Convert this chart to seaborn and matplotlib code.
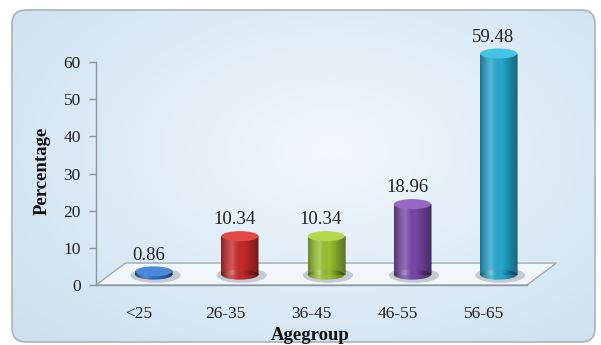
import numpy as np
import pandas as pd
import matplotlib
matplotlib.use("Agg")
import matplotlib.pyplot as plt
import seaborn as sns
from matplotlib.patches import Ellipse, Polygon, FancyBboxPatch
from matplotlib.colors import LinearSegmentedColormap

# ---- data ----
categories = ["<25", "26-35", "36-45", "46-55", "56-65"]
values = [0.86, 10.34, 10.34, 18.96, 59.48]
value_labels = ["0.86", "10.34", "10.34", "18.96", "59.48"]
y_ticks = [0, 10, 20, 30, 40, 50, 60]

# ---- styles ----
bar_colors = ["#2f6cc0", "#c92a2c", "#98c230", "#7a48a8", "#25a8d0"]
top_colors = ["#4a8ad8", "#df4a46", "#b2d84c", "#9468c4", "#46c2e6"]

sns.set_theme(style="white")
plt.rcParams["font.family"] = ["Liberation Serif", "DejaVu Serif"]

fig = plt.figure(figsize=(6.01, 3.45), dpi=100, facecolor="white")
W, H = 601, 345

# background panel with gradient
bg = fig.add_axes([0, 0, 1, 1], zorder=0)
bg.set_xlim(0, W)
bg.set_ylim(H, 0)
bg.axis("off")
yy, xx = np.mgrid[0:H, 0:W]
r = np.sqrt(((xx - 330) / 420.0) ** 2 + ((yy - 150) / 260.0) ** 2)
t = np.clip(r, 0, 1)
c0 = np.array([0.95, 0.972, 0.99])
c1 = np.array([0.80, 0.88, 0.945])
img = c0[None, None, :] * (1 - t[..., None]) + c1[None, None, :] * t[..., None]
panel = FancyBboxPatch((12, 10), 583, 332, boxstyle="round,pad=0,rounding_size=14",
                       facecolor="none", edgecolor="#a9b3bc", linewidth=1.2, zorder=3)
bg.add_patch(panel)
im = bg.imshow(img, extent=(0, W, H, 0), zorder=1)
clip_panel = FancyBboxPatch((12, 10), 583, 332, boxstyle="round,pad=0,rounding_size=14",
                            transform=bg.transData, facecolor="none", edgecolor="none")
bg.add_patch(clip_panel)
im.set_clip_path(clip_panel)

# main axes
ax = fig.add_axes([96 / W, 1 - 285 / H, (527 - 96) / W, (285 - 62) / H], zorder=2)
ax.set_facecolor("none")

df = pd.DataFrame({"Agegroup": categories, "Percentage": values})
sns.barplot(data=df, x="Agegroup", y="Percentage", hue="Agegroup",
            palette=bar_colors, legend=False, width=0.43, ax=ax,
            saturation=1, zorder=3)

ax.set_xlim(-0.5, 4.5)
ax.set_ylim(0, 60)
ax.set_yticks(y_ticks)
ax.set_yticklabels([str(v) for v in y_ticks])

# 3D floor
depth_dx, depth_dy = 0.34, 5.9
floor = Polygon([(-0.5, 0), (4.5, 0), (4.5 + depth_dx, depth_dy), (-0.5 + depth_dx, depth_dy)],
                closed=True, facecolor="#f4f8fc", edgecolor="#9aa3ab", linewidth=1.0,
                alpha=0.9, zorder=1, clip_on=False)
ax.add_patch(floor)

# cylinder shading colormap
shade = LinearSegmentedColormap.from_list(
    "shade",
    [(0.0, (0, 0, 0, 0.3)), (0.3, (1, 1, 1, 0.22)), (0.55, (0, 0, 0, 0.0)),
     (1.0, (0, 0, 0, 0.4))])
grad = np.linspace(0, 1, 64)[None, :]

dx, dy = 0.17, 2.8
ell_h = 2.7
for i, p in enumerate(ax.patches[:]):
    if p is floor:
        continue
    x0 = p.get_x() + dx
    w = p.get_width()
    h = p.get_height()
    p.set_x(x0)
    p.set_y(dy)
    p.set_clip_on(False)
    p.set_edgecolor("none")
    p.set_zorder(4)
    cx = x0 + w / 2
    # shadow
    sh = Ellipse((cx + 0.02, dy - 0.2), w * 1.35, ell_h * 1.5, facecolor="#6f7a85",
                 alpha=0.35, edgecolor="none", zorder=2, clip_on=False)
    ax.add_patch(sh)
    # bottom rounded
    be = Ellipse((cx, dy), w, ell_h, facecolor=p.get_facecolor(), edgecolor="none",
                 zorder=3.5, clip_on=False)
    ax.add_patch(be)
    for clip in (p, be):
        gi = ax.imshow(grad, cmap=shade, extent=(x0, x0 + w, dy - ell_h, dy + h),
                       aspect="auto", zorder=4.5, interpolation="bilinear")
        gi.set_clip_path(clip)
    # top cap
    te = Ellipse((cx, dy + h), w, ell_h, facecolor=top_colors[i], edgecolor="none",
                 zorder=5, clip_on=False)
    ax.add_patch(te)
    ax.annotate(value_labels[i], (cx - 0.06, dy + h + ell_h / 2), xytext=(0, 2),
                textcoords="offset points", ha="center", va="bottom",
                fontsize=13.5, color="#222222", zorder=6, annotation_clip=False)

ax.set_xlim(-0.5, 4.5)
ax.set_ylim(0, 60)

# spines and ticks
for s in ["top", "right"]:
    ax.spines[s].set_visible(False)
for s in ["left", "bottom"]:
    ax.spines[s].set_color("#8e969e")
    ax.spines[s].set_linewidth(1.0)
    ax.spines[s].set_zorder(1.5)

ax.set_xticks(np.arange(-0.5, 5, 1), minor=True)
ax.tick_params(axis="x", which="major", length=0, pad=15, labelsize=12.5, colors="#222222")
ax.tick_params(axis="x", which="minor", length=5, width=1, color="#8e969e", direction="out")
ax.tick_params(axis="y", which="major", length=5, width=1, color="#8e969e", direction="out",
               pad=6, labelsize=12.5, labelcolor="#222222", left=True)

ax.set_xlabel("Agegroup", fontsize=13.5, fontweight="bold", color="#111111")
ax.set_ylabel("Percentage", fontsize=13.5, fontweight="bold", color="#111111")
ax.xaxis.set_label_coords(0.497, -0.225)
ax.yaxis.set_label_coords(-0.125, 0.51)
ax.xaxis.label.set_va("center")
ax.yaxis.label.set_va("center")

fig.savefig("out.png", dpi=100, facecolor="white")
